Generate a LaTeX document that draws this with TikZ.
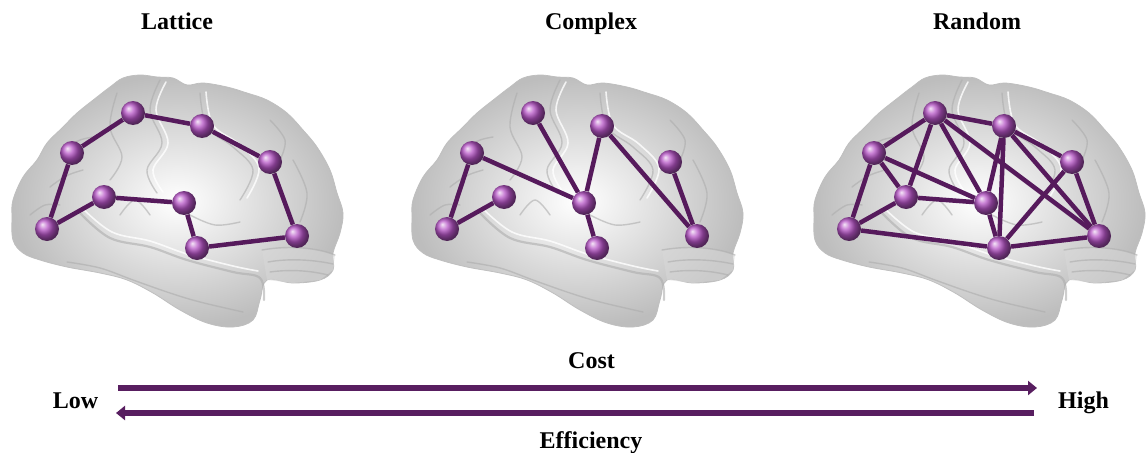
\documentclass[tikz,border=0pt]{standalone}
\usepackage{fontspec}
\setmainfont{Liberation Serif}
\usetikzlibrary{arrows.meta}
\definecolor{edgepurple}{RGB}{86,26,92}
\definecolor{ballpurple}{RGB}{182,84,198}
\definecolor{arrowpurple}{RGB}{88,30,96}
\tikzset{
  sphere/.style={circle, minimum size=24pt, inner sep=0pt, shading=ball, ball color=ballpurple},
  link/.style={line width=4.5pt, draw=edgepurple},
  title/.style={font=\fontsize{24}{28}\selectfont\bfseries, anchor=base, inner sep=0pt},
  sulcus/.style={draw=white!68!black, line width=1.4pt, line cap=round, opacity=0.6},
  ridge/.style={draw=white, line width=1.6pt, line cap=round, opacity=0.8},
  bigarrow/.style={line width=5.5pt, draw=arrowpurple, -{Triangle[length=9pt,width=14pt]}},
}
\newcommand\mybrain{%
  \shade[inner color=white, outer color=white!74!black, draw=white!75!black, line width=0.8pt]
    plot[smooth cycle, tension=0.6] coordinates {
      (12,217) (13,200) (23,177) (37,160) (47,143) (63,127) (77,113) (97,97) (110,87) (123,78)
      (140,75) (157,77) (173,78) (187,85) (203,83) (227,87) (247,93) (267,100) (287,113) (303,130)
      (317,147) (330,170) (337,193) (343,213) (340,233) (333,253) (333,270) (320,280) (293,283) (267,280)
      (260,300) (253,320) (233,327) (207,323) (180,310) (153,293) (127,280) (100,273) (67,267) (40,260)
      (23,253) (13,240)};
  % cerebellum
  \fill[white!85!black, opacity=0.5] plot[smooth, tension=0.6] coordinates {(262,250) (290,247) (318,250) (335,255)}
     -- (333,270) -- (320,280) -- (293,283) -- (267,280) -- cycle;
  \draw[sulcus] (268,262) .. controls (290,258) and (315,260) .. (333,264);
  \draw[sulcus] (270,272) .. controls (292,269) and (312,271) .. (328,275);
  \draw[sulcus] (262,250) .. controls (290,245) and (318,248) .. (335,255);
  % temporal lobe borders
  \draw[sulcus, line width=2.2pt] plot[smooth, tension=0.6] coordinates {(80,213) (110,238) (150,247) (187,260) (233,272) (260,278) (264,300)};
  \draw[ridge] plot[smooth, tension=0.6] coordinates {(82,208) (112,232) (150,241) (187,254) (233,266) (258,271)};
  \draw[sulcus] plot[smooth, tension=0.6] coordinates {(67,262) (100,268) (133,280) (170,293) (200,302) (243,312)};
  % central and neighbouring sulci
  \draw[sulcus] plot[smooth, tension=0.6] coordinates {(160,80) (150,110) (162,143) (147,170) (157,193)};
  \draw[ridge] plot[smooth, tension=0.6] coordinates {(166,82) (156,110) (168,143) (153,170) (163,192)};
  \draw[sulcus] plot[smooth, tension=0.6] coordinates {(117,93) (110,127) (122,157) (110,180)};
  \draw[sulcus] plot[smooth, tension=0.6] coordinates {(200,93) (207,127) (233,147) (253,170) (240,200)};
  \draw[ridge] plot[smooth, tension=0.6] coordinates {(206,92) (213,125) (239,144) (259,168) (247,198)};
  \draw[sulcus] plot[smooth, tension=0.6] coordinates {(67,147) (80,140) (93,137)};
  \draw[sulcus] plot[smooth, tension=0.6] coordinates {(50,187) (66,176) (83,170)};
  \draw[sulcus] plot[smooth, tension=0.6] coordinates {(30,215) (45,205) (60,205)};
  \draw[sulcus] plot[smooth, tension=0.6] coordinates {(293,160) (307,193) (300,222)};
  \draw[sulcus] plot[smooth, tension=0.6] coordinates {(270,120) (285,140) (280,160)};
  \draw[sulcus] plot[smooth, tension=0.6] coordinates {(190,215) (215,225) (240,222)};
  \draw[sulcus] plot[smooth, tension=0.6] coordinates {(120,215) (135,200) (150,215)};
}
\begin{document}
\begin{tikzpicture}[x=1pt, y=-1pt]
  \useasboundingbox (0,0) rectangle (1147,452);
  % brains
  \foreach \dx in {0,400,802} {
    \begin{scope}[shift={(\dx,0)}]
      \mybrain
    \end{scope}
  }
  % titles
  \node[title] (tL) at (177,30) {Lattice};
  \node[title] (tC) at (591,30) {Complex};
  \node[title] (tR) at (977,30) {Random};
  % spheres
  \foreach \g/\dx in {L/0,C/400,R/802} {
    \foreach \n/\x/\y in {A/133/113, B/202/126, C/270/162, D/297/236, E/197/248,
                          F/184/203, G/104/197, H/47/229, I/72/153} {
      \node[sphere] (\g\n) at (\x+\dx,\y) {};
    }
  }
  % lattice links
  \foreach \a/\b in {I/A, A/B, B/C, C/D, D/E, E/F, F/G, G/H, H/I}
    \draw[link] (L\a) -- (L\b);
  % complex links
  \foreach \a/\b in {I/H, H/G, I/F, A/F, F/B, F/E, B/D, C/D}
    \draw[link] (C\a) -- (C\b);
  % random links
  \foreach \a/\b in {I/A, A/B, B/C, C/D, D/E, E/H, H/I, H/G, G/I, G/A, G/F, F/I,
                     F/A, F/B, F/E, E/B, E/C, A/D, B/D}
    \draw[link] (R\a) -- (R\b);
  % cost / efficiency arrows
  \coordinate (costS) at (118,388);
  \coordinate (costE) at (1037,388);
  \coordinate (effS) at (1034,413);
  \coordinate (effE) at (116,413);
  \draw[bigarrow] (costS) -- (costE);
  \draw[bigarrow] (effS) -- (effE);
  \node[title] (cost) at (591.5,368) {Cost};
  \node[title] (eff) at (591,448) {Efficiency};
  \node[title] (low) at (75.5,408) {Low};
  \node[title] (high) at (1083.5,408) {High};
\end{tikzpicture}
\end{document}
